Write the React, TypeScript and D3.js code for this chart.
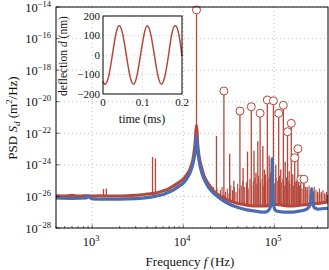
import React from 'react';
import * as d3 from 'd3';

// ---------- data (log10 of PSD in m^2/Hz) ----------
const blueFreq = [400, 600, 860, 900, 1000, 1500, 2000, 3000, 4000, 5000, 6000, 7000, 8000, 9000, 10000, 11000, 12000, 13000, 13600, 14000, 14400, 15000, 16000, 18000, 20000, 25000, 30000, 40000, 50000, 60000, 70000, 80000, 88000, 92000, 94000, 95000, 96000, 98000, 102000, 110000, 130000, 150000, 180000, 220000, 245000, 255000, 259000, 263000, 275000, 300000, 390000];
const blueLog = [-26.1, -26.12, -26.1, -26.0, -26.15, -26.17, -26.17, -26.14, -26.08, -25.98, -25.88, -25.72, -25.55, -25.35, -25.15, -24.85, -24.45, -23.75, -23.05, -22.2, -23.0, -23.8, -24.5, -25.2, -25.6, -26.1, -26.4, -26.7, -26.85, -26.92, -26.98, -27.0, -26.85, -26.5, -25.6, -23.6, -25.4, -26.4, -26.85, -26.95, -27.0, -27.0, -26.95, -26.85, -26.6, -26.0, -25.5, -26.2, -26.7, -26.8, -26.75];

const redFloorFreq = [400, 500, 600, 700, 800, 1000, 1200, 1500, 2000, 2500, 3000, 3500, 4000, 5000, 6000, 7000, 8000, 9000, 10000, 11000, 12000, 13000, 13500, 13800, 14000, 14200, 14500, 15000, 16000, 17000, 18000, 20000, 22000, 25000, 30000, 35000, 40000, 45000, 50000, 60000, 70000, 80000, 90000, 100000, 120000, 150000, 200000, 250000, 300000, 390000];
const redFloorLog = [-25.95, -25.98, -25.93, -25.98, -25.95, -25.97, -25.96, -25.98, -25.97, -25.95, -25.93, -25.9, -25.85, -25.78, -25.65, -25.5, -25.3, -25.1, -24.9, -24.6, -24.2, -23.4, -22.6, -21.8, -21.5, -21.9, -22.8, -23.5, -24.2, -24.7, -25.0, -25.4, -25.7, -25.95, -26.2, -26.35, -26.45, -26.5, -26.55, -26.6, -26.6, -26.6, -26.55, -26.5, -26.55, -26.6, -26.55, -26.5, -26.45, -26.35];

// harmonics of the drive (circled)
const harmFreq = [14000, 28000, 42000, 56000, 70000, 84000, 98000, 112000, 126000, 140000, 154000, 168000, 182000, 196000, 212000];
const harmLog = [-14.19, -19.32, -20.59, -20.32, -20.73, -19.89, -19.94, -20.73, -20.23, -21.9, -21.37, -23.55, -22.98, -24.91, -24.91];

// other spurious lines
const spikeFreq = [1330, 1430, 4600, 4950, 23200, 32400, 36000, 45500, 50900, 60000, 63000, 66000, 75000, 78000, 88000, 91000, 104000, 118000, 132000, 146000, 160000, 175000, 190000, 230000, 250000, 270000, 300000, 330000, 360000];
const spikeLog = [-25.53, -25.5, -23.5, -23.6, -22.17, -23.3, -25.0, -24.2, -23.16, -23.1, -24.5, -22.5, -22.8, -24.3, -23.4, -24.5, -24.0, -24.3, -23.8, -24.4, -24.6, -25.0, -25.3, -25.4, -25.6, -25.7, -25.7, -25.8, -25.9];

// dense noise "grass" on the driven spectrum
const grassFreq = [18000, 18800, 19650, 20550, 21450, 22450, 23450, 24500, 25600, 26750, 27950, 29200, 30500, 31900, 33300, 34800, 36400, 38000, 39700, 41500, 43400, 45300, 47400, 49500, 51700, 54100, 56500, 59000, 61700, 64500, 67400, 70400, 73600, 76900, 80300, 83900, 87700, 91700, 95800, 100100, 104600, 109300, 114200, 119400, 124700, 130300, 136200, 142300, 148700, 155400, 162400, 169700, 177400, 185400, 193700, 202400, 211500, 221100, 231000, 241400, 252300, 263600, 275500, 287900, 300800, 314400, 328500, 343300, 358700, 374900, 386000];
const grassLog = [-25.3, -25.5, -25.2, -25.6, -25.4, -25.7, -25.5, -25.8, -25.6, -25.4, -25.9, -25.7, -25.5, -25.8, -25.3, -25.6, -25.4, -25.7, -25.2, -25.5, -25.3, -25.0, -25.4, -25.1, -25.5, -24.9, -25.3, -25.0, -24.8, -25.2, -24.7, -25.1, -24.9, -25.3, -24.6, -25.0, -24.8, -24.5, -24.9, -25.2, -24.8, -25.0, -24.7, -25.1, -24.9, -25.3, -24.8, -25.0, -25.2, -24.9, -25.3, -25.1, -25.4, -25.0, -25.3, -25.5, -25.2, -25.4, -25.6, -25.3, -25.5, -25.7, -25.4, -25.6, -25.8, -25.5, -25.7, -25.6, -25.8, -25.7, -25.9];

// inset time trace
const insetTime = [0, 0.006, 0.0148, 0.0237, 0.0325, 0.041, 0.05, 0.059, 0.068, 0.077, 0.086, 0.095, 0.104, 0.112, 0.121, 0.13, 0.139, 0.148, 0.157, 0.166, 0.174, 0.183, 0.192, 0.2];
const insetDefl = [-135, -150, -106, 0, 106, 150, 106, 0, -106, -150, -106, 0, 106, 150, 106, 0, -106, -150, -106, 0, 106, 150, 106, -5];

const yTickExp = [-28, -26, -24, -22, -20, -18, -16, -14];
const xTickExp = [3, 4, 5];
const insetYTicks = [200, 100, 0, -100, -200];
const insetXTicks = [0, 0.1, 0.2];

const RED = '#b5473b';
const BLUE = '#4c6cb0';
const FONT = "Liberation Serif";

export default function App() {
  const L = 56, R = 328, T = 7, B = 228;
  const x = d3.scaleLog().domain([400, 3.9e5]).range([L, R]);
  const y = d3.scaleLog().domain([1e-28, 1e-14]).range([B, T]);
  const P = (v: number) => y(Math.pow(10, v));

  const blueData = blueFreq.map((f, i) => [f, blueLog[i]] as [number, number]);
  const redData = redFloorFreq.map((f, i) => [f, redFloorLog[i]] as [number, number]);
  const line = d3.line<[number, number]>().x(d => x(d[0])).y(d => P(d[1])).curve(d3.curveMonotoneX);

  const floorInterp = (f: number) => {
    const lf = Math.log10(f);
    const i = d3.bisector((d: number) => d).left(redFloorFreq, f);
    if (i <= 0) return redFloorLog[0];
    if (i >= redFloorFreq.length) return redFloorLog[redFloorLog.length - 1];
    const a = Math.log10(redFloorFreq[i - 1]), b = Math.log10(redFloorFreq[i]);
    return redFloorLog[i - 1] + (redFloorLog[i] - redFloorLog[i - 1]) * (lf - a) / (b - a);
  };

  const minor: number[] = [];
  for (let e = 2; e <= 5; e++) for (let k = 2; k <= 9; k++) {
    const v = k * Math.pow(10, e);
    if (v >= 400 && v <= 3.9e5) minor.push(v);
  }

  const ix = d3.scaleLinear().domain([0, 0.2]).range([103, 182]);
  const iy = d3.scaleLinear().domain([-200, 200]).range([94, 16]);
  const insetLine = d3.line<number>().x((_, i) => ix(insetTime[i])).y(d => iy(d)).curve(d3.curveNatural);

  return (
    <svg width={329} height={270} style={{ position: 'absolute', left: 0, top: 0, background: '#fff' }} fontFamily={FONT}>
      {/* grid */}
      <g stroke="#9a9a9a" strokeWidth={0.8} strokeDasharray="0.8 3.2">
        {xTickExp.map(e => <line key={'gx' + e} x1={x(Math.pow(10, e))} x2={x(Math.pow(10, e))} y1={T} y2={B} />)}
        {yTickExp.map(e => <line key={'gy' + e} x1={L} x2={R} y1={P(e)} y2={P(e)} />)}
      </g>
      {/* red spikes */}
      <g stroke={RED} strokeWidth={1.1}>
        {grassFreq.map((f, i) => <line key={'g' + i} x1={x(f)} x2={x(f)} y1={P(floorInterp(f))} y2={P(grassLog[i])} />)}
      </g>
      <g stroke={RED} strokeWidth={1.3}>
        {spikeFreq.map((f, i) => <line key={'s' + i} x1={x(f)} x2={x(f)} y1={P(floorInterp(f))} y2={P(spikeLog[i])} />)}
        {harmFreq.map((f, i) => <line key={'h' + i} x1={x(f)} x2={x(f)} y1={P(floorInterp(f))} y2={P(harmLog[i])} />)}
      </g>
      <path d={line(redData) || ''} fill="none" stroke={RED} strokeWidth={3} />
      <path d={line(blueData) || ''} fill="none" stroke={BLUE} strokeWidth={3.2} strokeLinejoin="round" />
      <g stroke={RED} strokeWidth={1} fill="#fff">
        {harmFreq.map((f, i) => <circle key={'c' + i} cx={x(f)} cy={P(harmLog[i])} r={4} />)}
      </g>
      {/* frame */}
      <rect x={L} y={T} width={R - L} height={B - T} fill="none" stroke="#000" strokeWidth={1} />
      {/* ticks */}
      <g stroke="#000" strokeWidth={0.6}>
        {xTickExp.map(e => <line key={'xt' + e} x1={x(Math.pow(10, e))} x2={x(Math.pow(10, e))} y1={B} y2={B - 3.5} />)}
        {minor.map(v => <line key={'xm' + v} x1={x(v)} x2={x(v)} y1={B} y2={B - 2} />)}
        {yTickExp.map(e => <line key={'yt' + e} x1={L} x2={L + 3.5} y1={P(e)} y2={P(e)} />)}
      </g>
      {/* tick labels */}
      <g fontSize={12.5} fill="#111">
        {xTickExp.map(e => (
          <text key={'xl' + e} x={x(Math.pow(10, e)) - 1} y={246} textAnchor="middle">10<tspan fontSize={8.5} dy={-5}>{e}</tspan></text>
        ))}
        {yTickExp.map(e => (
          <text key={'yl' + e} x={51} y={P(e) + 4.5} textAnchor="end">10<tspan fontSize={8.5} dy={-5}>{'\u2212' + Math.abs(e)}</tspan></text>
        ))}
      </g>
      <text x={190} y={266} textAnchor="middle" fontSize={13} fill="#111">Frequency <tspan fontStyle="italic">f</tspan> (Hz)</text>
      <text transform="translate(17,118) rotate(-90)" textAnchor="middle" fontSize={13} fill="#111">PSD <tspan fontStyle="italic">S</tspan><tspan fontSize={9} fontStyle="italic" dy={2.5}>d</tspan><tspan dy={-2.5}> (m</tspan><tspan fontSize={9} dy={-5}>2</tspan><tspan dy={5}>/Hz)</tspan></text>

      {/* inset */}
      <rect x={103} y={16} width={79} height={78} fill="#fff" stroke="none" />
      <g stroke="#9a9a9a" strokeWidth={0.7} strokeDasharray="0.7 2.8">
        {[100, 0, -100].map(v => <line key={'ig' + v} x1={103} x2={182} y1={iy(v)} y2={iy(v)} />)}
        <line x1={ix(0.1)} x2={ix(0.1)} y1={16} y2={94} />
      </g>
      <path d={insetLine(insetDefl) || ''} fill="none" stroke={RED} strokeWidth={1.5} />
      <rect x={103} y={16} width={79} height={78} fill="none" stroke="#000" strokeWidth={1} />
      <g fontSize={11} fill="#111">
        {insetYTicks.map(v => <text key={'iyl' + v} x={100} y={iy(v) + 3.5} textAnchor="end">{v < 0 ? '\u2212' + Math.abs(v) : v}</text>)}
        {insetXTicks.map(v => <text key={'ixl' + v} x={ix(v)} y={106} textAnchor="middle">{v}</text>)}
      </g>
      <text x={142} y={123} textAnchor="middle" fontSize={12} fill="#111">time (ms)</text>
      <text transform="translate(67,56) rotate(-90)" textAnchor="middle" fontSize={11.5} fill="#111">deflection <tspan fontStyle="italic">d</tspan> (nm)</text>
    </svg>
  );
}
